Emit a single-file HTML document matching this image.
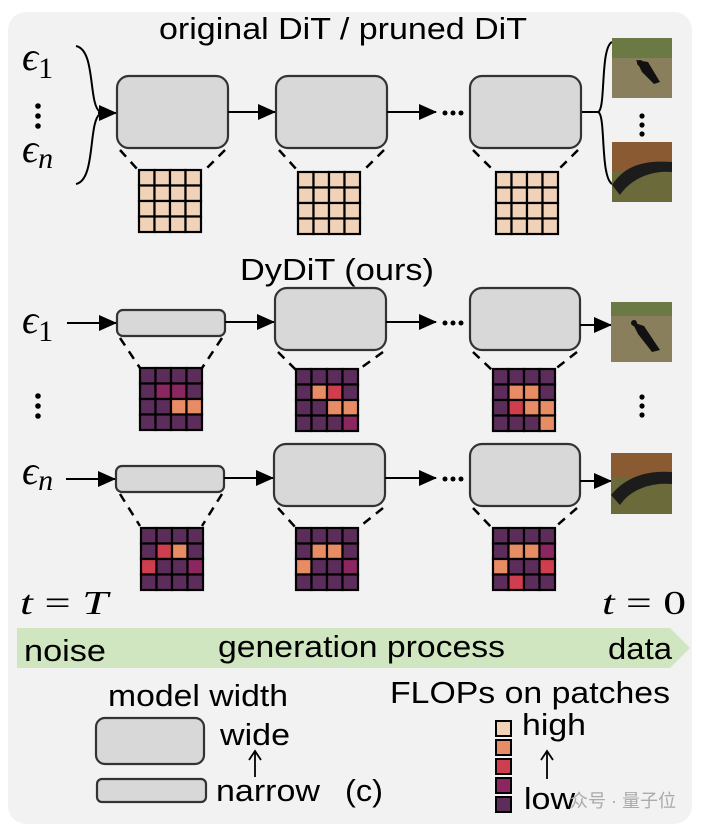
<!DOCTYPE html>
<html><head><meta charset="utf-8"><style>
html,body{margin:0;padding:0;background:#fff;}
svg{display:block;}
text{font-family:"Liberation Sans",sans-serif;fill:#000;}
.m{font-family:"Liberation Serif","DejaVu Serif",serif;font-style:italic;}
</style></head><body>
<svg width="704" height="828" viewBox="0 0 704 828" xmlns="http://www.w3.org/2000/svg">
<defs>
<marker id="ah2" markerWidth="18" markerHeight="16" refX="17" refY="8" orient="auto" markerUnits="userSpaceOnUse"><path d="M0,0 L18,8 L0,16 z" fill="#000"/></marker>
</defs>
<rect x="8" y="12" width="684" height="812" rx="18" fill="#f2f2f2"/>
<text x="343" y="39" font-size="31" text-anchor="middle" textLength="368" lengthAdjust="spacingAndGlyphs">original DiT / pruned DiT</text>
<text class="m" x="22" y="70" font-size="40">ϵ<tspan font-style="normal" font-size="30" dy="8">1</tspan></text>
<circle cx="38" cy="106" r="2.8"/><circle cx="38" cy="116" r="2.8"/><circle cx="38" cy="126" r="2.8"/>
<text class="m" x="22" y="162" font-size="40">ϵ<tspan font-size="30" dy="6">n</tspan></text>
<path d="M76,46 C96,50 88,104 100,112 M76,184 C96,180 88,122 100,114" fill="none" stroke="#000" stroke-width="2"/>
<line x1="98" y1="113" x2="116" y2="113" stroke="#000" stroke-width="2" marker-end="url(#ah2)"/>
<g fill="#d8d8d8" stroke="#333" stroke-width="2.2">
<rect x="117" y="76" width="111" height="72" rx="12"/>
<rect x="276" y="76" width="111" height="72" rx="12"/>
<rect x="470" y="76" width="111" height="72" rx="12"/>
</g>
<g stroke="#000" stroke-width="2">
<line x1="228" y1="112" x2="275" y2="112" marker-end="url(#ah2)"/>
<line x1="387" y1="112" x2="436" y2="112" marker-end="url(#ah2)"/>
</g>
<circle cx="445" cy="113" r="2.5"/><circle cx="453" cy="113" r="2.5"/><circle cx="461" cy="113" r="2.5"/>
<path d="M582,112 L598,112 M598,112 C606,110 600,48 612,42 M598,112 C606,114 600,176 612,184" fill="none" stroke="#000" stroke-width="2"/>
<rect x="612" y="38" width="60" height="60" fill="#8a7f5c"/><rect x="612" y="38" width="60" height="20" fill="#6b7a45"/>
<path d="M636,60 L648,62 L660,82 L654,84 L642,72 Z" fill="#111"/>
<circle cx="640" cy="63" r="3" fill="#111"/>
<rect x="612" y="142" width="60" height="60" fill="#8a5a32"/><rect x="612" y="172" width="60" height="30" fill="#6a6a3a"/>
<path d="M612,185 C625,165 645,160 672,162 L672,172 C650,170 630,180 620,195 Z" fill="#1c1c1c"/>
<circle cx="642" cy="116" r="2.6"/><circle cx="642" cy="125" r="2.6"/><circle cx="642" cy="134" r="2.6"/>
<g stroke="#000" stroke-width="2.5" stroke-dasharray="9,7" fill="none">
<path d="M120,150 L138,170 M225,150 L205,170"/>
<path d="M279,150 L297,170 M384,150 L364,170"/>
<path d="M473,150 L493,170 M578,150 L558,170"/>
<path d="M120,338 L140,368 M222,338 L202,368"/>
<path d="M278,352 L296,370 M383,352 L358,370"/>
<path d="M473,352 L492,370 M577,352 L554,370"/>
<path d="M120,494 L140,526 M222,494 L202,526"/>
<path d="M278,508 L296,528 M383,508 L358,528"/>
<path d="M473,508 L492,528 M577,508 L554,528"/>
</g>
<g id="grids" stroke="#000" stroke-width="2.2"></g>
<text x="337" y="280" font-size="31" text-anchor="middle" textLength="194" lengthAdjust="spacingAndGlyphs">DyDiT (ours)</text>
<text class="m" x="22" y="333" font-size="40">ϵ<tspan font-style="normal" font-size="30" dy="8">1</tspan></text>
<circle cx="38" cy="396" r="2.8"/><circle cx="38" cy="406" r="2.8"/><circle cx="38" cy="416" r="2.8"/>
<text class="m" x="22" y="484" font-size="40">ϵ<tspan font-size="30" dy="6">n</tspan></text>
<g fill="#d8d8d8" stroke="#333" stroke-width="2.2">
<rect x="117" y="310" width="108" height="26" rx="6"/>
<rect x="275" y="288" width="111" height="62" rx="12"/>
<rect x="470" y="288" width="110" height="62" rx="12"/>
<rect x="116" y="466" width="108" height="26" rx="6"/>
<rect x="274" y="444" width="111" height="62" rx="12"/>
<rect x="470" y="444" width="110" height="62" rx="12"/>
</g>
<g stroke="#000" stroke-width="2">
<line x1="67" y1="323" x2="116" y2="323" marker-end="url(#ah2)"/>
<line x1="225" y1="322" x2="274" y2="322" marker-end="url(#ah2)"/>
<line x1="386" y1="322" x2="436" y2="322" marker-end="url(#ah2)"/>
<line x1="580" y1="325" x2="611" y2="325" marker-end="url(#ah2)"/>
<line x1="66" y1="479" x2="115" y2="479" marker-end="url(#ah2)"/>
<line x1="224" y1="478" x2="273" y2="478" marker-end="url(#ah2)"/>
<line x1="385" y1="478" x2="436" y2="478" marker-end="url(#ah2)"/>
<line x1="580" y1="481" x2="611" y2="481" marker-end="url(#ah2)"/>
</g>
<circle cx="445" cy="323" r="2.5"/><circle cx="453" cy="323" r="2.5"/><circle cx="461" cy="323" r="2.5"/>
<circle cx="445" cy="479" r="2.5"/><circle cx="453" cy="479" r="2.5"/><circle cx="461" cy="479" r="2.5"/>
<rect x="611" y="302" width="61" height="60" fill="#8a7f5c"/><rect x="611" y="302" width="61" height="14" fill="#6b7a45"/>
<path d="M632,322 L644,326 L660,350 L652,352 L638,334 Z" fill="#111"/><circle cx="634" cy="323" r="3" fill="#111"/>
<rect x="611" y="453" width="61" height="61" fill="#8a5a32"/><rect x="611" y="478" width="61" height="36" fill="#6a6a3a"/>
<path d="M611,495 C625,478 645,470 672,472 L672,484 C650,482 630,490 620,505 Z" fill="#1c1c1c"/>
<circle cx="642" cy="397" r="2.6"/><circle cx="642" cy="406" r="2.6"/><circle cx="642" cy="415" r="2.6"/>
<text x="20" y="614" font-size="34" class="m" textLength="88" lengthAdjust="spacingAndGlyphs">t <tspan font-style="normal">=</tspan> T</text>
<text x="602" y="614" font-size="34" class="m" textLength="84" lengthAdjust="spacingAndGlyphs">t <tspan font-style="normal">=</tspan> <tspan font-style="normal">0</tspan></text>
<path d="M17,628 L670,628 L690,648 L670,668 L17,668 Z" fill="#cfe6c0"/>
<text x="24" y="661" font-size="31" textLength="82" lengthAdjust="spacingAndGlyphs">noise</text>
<text x="218" y="657" font-size="31" textLength="287" lengthAdjust="spacingAndGlyphs">generation process</text>
<text x="608" y="659" font-size="31" textLength="64" lengthAdjust="spacingAndGlyphs">data</text>
<text x="108" y="706" font-size="31" textLength="180" lengthAdjust="spacingAndGlyphs">model width</text>
<rect x="96" y="718" width="108" height="46" rx="9" fill="#d8d8d8" stroke="#333" stroke-width="2.2"/>
<rect x="97" y="779" width="109" height="23" rx="5" fill="#d8d8d8" stroke="#333" stroke-width="2.2"/>
<text x="220" y="745" font-size="31" textLength="70" lengthAdjust="spacingAndGlyphs">wide</text>
<path d="M255,777 L255,752 M249,760 L255,751 L261,760" fill="none" stroke="#000" stroke-width="1.8"/>
<text x="216" y="801" font-size="31" textLength="104" lengthAdjust="spacingAndGlyphs">narrow</text>
<text x="345" y="801" font-size="31" textLength="38" lengthAdjust="spacingAndGlyphs">(c)</text>
<text x="390" y="703" font-size="31" textLength="280" lengthAdjust="spacingAndGlyphs">FLOPs on patches</text>
<g stroke="#000" stroke-width="2">
<rect x="496" y="721" width="15" height="15" fill="#f0d2b8"/>
<rect x="496" y="740" width="15" height="15" fill="#e88c66"/>
<rect x="496" y="759" width="15" height="15" fill="#cf3e4e"/>
<rect x="496" y="778" width="15" height="15" fill="#8b2660"/>
<rect x="496" y="797" width="15" height="15" fill="#5c2d5a"/>
</g>
<text x="522" y="735" font-size="31" textLength="64" lengthAdjust="spacingAndGlyphs">high</text>
<path d="M547,779 L547,752 M541,760 L547,751 L553,760" fill="none" stroke="#000" stroke-width="1.8"/>
<text x="524" y="809" font-size="31" textLength="51" lengthAdjust="spacingAndGlyphs">low</text>
<text x="570" y="807" font-size="18" style="fill:#aaa" font-family="Noto Sans CJK SC">众号 · 量子位</text>
</svg>
<script>
const C={F:"#f0d2b8",O:"#e88c66",R:"#cf3e4e",M:"#8b2660",P:"#5c2d5a"};
const g=document.getElementById("grids");
function grid(x,y,rows){const s=15.5;for(let r=0;r<4;r++)for(let c=0;c<4;c++){const e=document.createElementNS("http://www.w3.org/2000/svg","rect");e.setAttribute("x",x+c*s);e.setAttribute("y",y+r*s);e.setAttribute("width",s);e.setAttribute("height",s);e.setAttribute("fill",C[rows[r][c]]);g.appendChild(e);}}
const F=["FFFF","FFFF","FFFF","FFFF"];
grid(139,170,F);grid(298,172,F);grid(496,172,F);
grid(140,368,["PPPP","PMMP","PPOO","PPPP"]);
grid(296,369,["PPPP","PORP","PPOO","PPPM"]);
grid(493,369,["PPPP","POOP","PROO","PPPO"]);
grid(141,528,["PPPP","PROP","RPPM","PPPP"]);
grid(296,528,["PPPP","POOP","OPPM","PPPP"]);
grid(493,528,["PPPP","POOM","OPPR","PRPP"]);
</script>
</body></html>
